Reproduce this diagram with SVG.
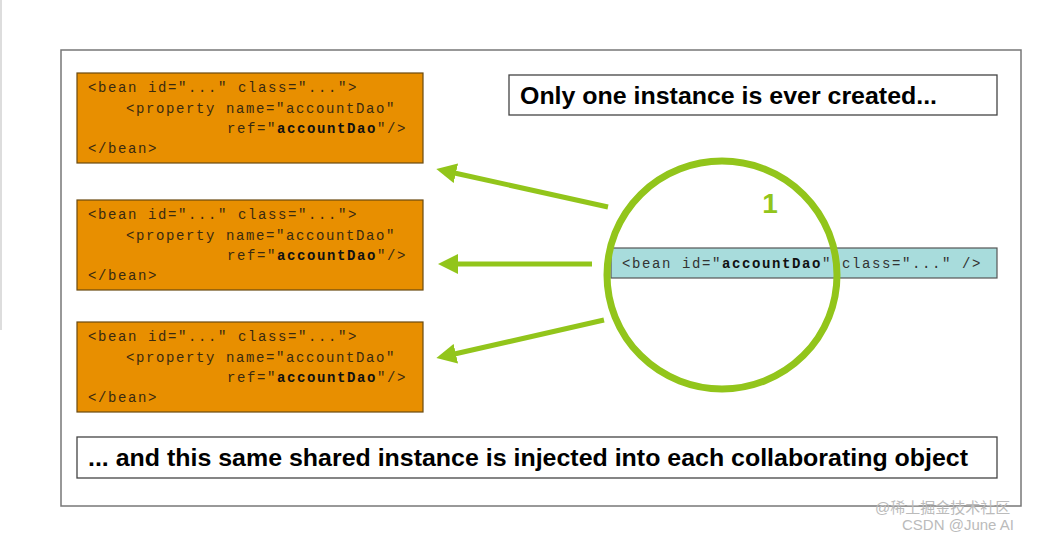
<svg xmlns="http://www.w3.org/2000/svg" width="1052" height="538" viewBox="0 0 1052 538">
<style>
.code{font-family:"Liberation Mono",monospace;font-size:14px;letter-spacing:1.6px;fill:#3a2a10}
.b{font-weight:bold;fill:#111}
.ob{fill:#e88f00;stroke:#6a4a10;stroke-width:1.2}
.tb{fill:#fff;stroke:#444;stroke-width:1.3}
.big{font-family:"Liberation Sans",Arial,sans-serif;font-weight:bold;font-size:23px;fill:#000}
.arr{stroke:#92c51b;stroke-width:5;fill:none}
.wm{font-family:"Liberation Sans","Noto Sans CJK SC",sans-serif;font-size:15px;fill:#bbb}
</style>
<defs>
<marker id="ah" viewBox="0 0 10 10" refX="3" refY="5" markerWidth="4" markerHeight="4" orient="auto" markerUnits="strokeWidth">
<path d="M0,0 L10,5 L0,10 z" fill="#92c51b"/>
</marker>
</defs>
<rect width="1052" height="538" fill="#fff"/>
<line x1="1" y1="0" x2="1" y2="330" stroke="#ddd" stroke-width="2"/>
<rect id="frame" x="61" y="50" width="960" height="456" fill="#fff" stroke="#777" stroke-width="1.5"/>
<g id="bean1">
<rect class="ob" x="77" y="73" width="346" height="90"/>
<text class="code" x="88" y="92">&lt;bean id="..." class="..."&gt;</text>
<text class="code" x="126" y="113">&lt;property name="accountDao"</text>
<text class="code" x="227" y="133">ref="<tspan class="b">accountDao</tspan>"/&gt;</text>
<text class="code" x="88" y="153">&lt;/bean&gt;</text>
</g>
<g id="bean2">
<rect class="ob" x="77" y="200" width="346" height="90"/>
<text class="code" x="88" y="219">&lt;bean id="..." class="..."&gt;</text>
<text class="code" x="126" y="240">&lt;property name="accountDao"</text>
<text class="code" x="227" y="260">ref="<tspan class="b">accountDao</tspan>"/&gt;</text>
<text class="code" x="88" y="280">&lt;/bean&gt;</text>
</g>
<g id="bean3">
<rect class="ob" x="77" y="322" width="346" height="90"/>
<text class="code" x="88" y="341">&lt;bean id="..." class="..."&gt;</text>
<text class="code" x="126" y="362">&lt;property name="accountDao"</text>
<text class="code" x="227" y="382">ref="<tspan class="b">accountDao</tspan>"/&gt;</text>
<text class="code" x="88" y="402">&lt;/bean&gt;</text>
</g>
<g id="title">
<rect class="tb" x="509" y="75" width="488" height="40"/>
<text class="big" x="520" y="104" textLength="417" lengthAdjust="spacingAndGlyphs">Only one instance is ever created...</text>
</g>
<g id="footer">
<rect class="tb" x="77" y="437" width="920" height="41"/>
<text class="big" x="88" y="466" textLength="880" lengthAdjust="spacingAndGlyphs">... and this same shared instance is injected into each collaborating object</text>
</g>
<g id="singleton">
<rect x="611" y="248" width="386" height="30" fill="#a8dcdc" stroke="#555" stroke-width="1.2"/>
<text class="code" x="622" y="268" style="fill:#333">&lt;bean id="<tspan class="b">accountDao</tspan>" class="..." /&gt;</text>
</g>
<g id="connectors">
<ellipse cx="722" cy="275" rx="115" ry="114" fill="none" stroke="#92c51b" stroke-width="7"/>
<line class="arr" x1="608" y1="207" x2="450" y2="172" marker-end="url(#ah)"/>
<line class="arr" x1="592" y1="264" x2="452" y2="264" marker-end="url(#ah)"/>
<line class="arr" x1="604" y1="320" x2="450" y2="355" marker-end="url(#ah)"/>
</g>
<text x="770" y="213" font-family="Liberation Sans,Arial,sans-serif" font-weight="bold" font-size="28" fill="#92c51b" text-anchor="middle">1</text>
<text class="wm" x="875" y="513">@稀土掘金技术社区</text>
<text class="wm" x="902" y="530">CSDN @June AI</text>
</svg>
